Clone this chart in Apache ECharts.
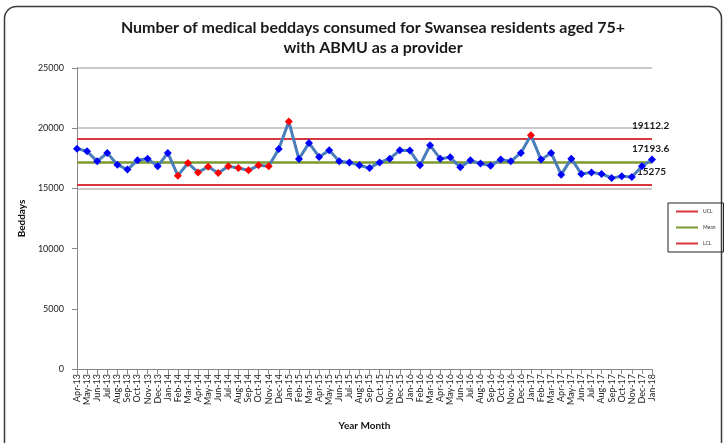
<!DOCTYPE html>
<html>
<head>
<meta charset="utf-8">
<script src="https://cdn.jsdelivr.net/npm/echarts@6/dist/echarts.min.js"></script>
<style>html,body{margin:0;padding:0;background:#fff}#c{width:725px;height:443px}</style>
</head>
<body>
<div id="c"></div>
<script>
const months = ['Apr-13','May-13','Jun-13','Jul-13','Aug-13','Sep-13','Oct-13','Nov-13','Dec-13',
  'Jan-14','Feb-14','Mar-14','Apr-14','May-14','Jun-14','Jul-14','Aug-14','Sep-14','Oct-14','Nov-14','Dec-14',
  'Jan-15','Feb-15','Mar-15','Apr-15','May-15','Jun-15','Jul-15','Aug-15','Sep-15','Oct-15','Nov-15','Dec-15',
  'Jan-16','Feb-16','Mar-16','Apr-16','May-16','Jun-16','Jul-16','Aug-16','Sep-16','Oct-16','Nov-16','Dec-16',
  'Jan-17','Feb-17','Mar-17','Apr-17','May-17','Jun-17','Jul-17','Aug-17','Sep-17','Oct-17','Nov-17','Dec-17',
  'Jan-18'];
const beddays = [18300,18080,17250,17950,16970,16560,17330,17470,16830,
  17950,16060,17110,16330,16800,16280,16830,16700,16500,16915,16830,18280,
  20550,17440,18780,17610,18160,17250,17160,16915,16700,17160,17470,18160,
  18140,16915,18580,17470,17580,16750,17330,17060,16890,17390,17250,17950,
  19410,17390,17950,16140,17470,16200,16330,16200,15870,16000,15950,16830,
  17390];
const UCL = 19112.2;
const MEAN = 17193.6;
const LCL = 15275;
const yTicks = [0,5000,10000,15000,20000,25000];

// flag points: outside limits, or part of a run of >= 8 on one side of the mean
function flags(v){
  const f = v.map(x => x > UCL || x < LCL);
  let i = 0;
  while (i < v.length){
    const side = v[i] > MEAN;
    let j = i;
    while (j < v.length && (v[j] > MEAN) === side) j++;
    if (j - i >= 8) for (let k = i; k < j; k++) f[k] = true;
    i = j;
  }
  return f;
}
const fl = flags(beddays);
const seriesData = beddays.map((v,i) => ({value:v, itemStyle:{color: fl[i] ? '#ff0000' : '#0000ff'}}));

const FONT = 'Lato';
const chart = echarts.init(document.getElementById('c'));
chart.setOption({
  animation:false,
  textStyle:{fontFamily:FONT},
  graphic:[{type:'rect', shape:{x:4.5,y:6.5,width:717,height:470,r:12}, style:{fill:'none',stroke:'#3a3a3a',lineWidth:1.5}, silent:true}],
  title:{text:'Number of medical beddays consumed for Swansea residents aged 75+\nwith ABMU as a provider',
    left:368, top:13, textAlign:'center',
    textStyle:{fontFamily:FONT,fontWeight:'bold',fontSize:16,color:'#1a1a1a',lineHeight:20}},
  legend:{orient:'vertical', left:668, top:203, width:54, itemWidth:22, itemHeight:2, itemGap:11,
    padding:[6,8,6,8], borderColor:'#222', borderWidth:1,
    textStyle:{fontSize:5,color:'#333'}, data:[
      {name:'UCL', icon:'rect'},{name:'Mean', icon:'rect'},{name:'LCL', icon:'rect'}]},
  grid:{left:77, right:73, top:68, bottom:74},
  xAxis:{type:'category', data:months, boundaryGap:false,
    name:'Year Month', nameLocation:'middle', nameGap:52,
    nameTextStyle:{fontWeight:'bold',fontSize:10,color:'#111'},
    axisLine:{lineStyle:{color:'#888'}}, axisTick:{show:true,alignWithLabel:true,lineStyle:{color:'#888'}},
    axisLabel:{interval:0, rotate:90, fontSize:9, color:'#222', margin:5}},
  yAxis:{type:'value', min:0, max:25000, interval:5000,
    name:'Beddays', nameLocation:'middle', nameGap:50,
    nameTextStyle:{fontWeight:'bold',fontSize:10,color:'#111'},
    axisLine:{show:true,lineStyle:{color:'#888'}}, axisTick:{show:true,lineStyle:{color:'#888'}},
    axisLabel:{fontSize:9,color:'#222',margin:13, formatter: function(v){ return String(v); }},
    splitLine:{show:true, lineStyle:{color:['rgba(0,0,0,0)','rgba(0,0,0,0)','rgba(0,0,0,0)','#b8b8b8','#b8b8b8','#b8b8b8'], width:1.5}}},
  series:[
    {name:'UCL', type:'line', data:[], color:'#d9363e', z:3,
      markLine:{symbol:'none', silent:true, lineStyle:{color:'#d9363e', width:2, type:'solid'},
        label:{show:true, position:'end', formatter:String(UCL), offset:[-25,-13], fontWeight:'bold', fontSize:10, color:'#1a1a1a', fontFamily:FONT},
        data:[{yAxis:UCL}]}},
    {name:'Mean', type:'line', data:[], color:'#7a9a2e', z:3,
      markLine:{symbol:'none', silent:true, lineStyle:{color:'#7a9a2e', width:2.5, type:'solid'},
        label:{show:true, position:'end', formatter:String(MEAN), offset:[-25,-13], fontWeight:'bold', fontSize:10, color:'#1a1a1a', fontFamily:FONT},
        data:[{yAxis:MEAN}]}},
    {name:'LCL', type:'line', data:[], color:'#d9363e', z:3,
      markLine:{symbol:'none', silent:true, lineStyle:{color:'#d9363e', width:2, type:'solid'},
        label:{show:true, position:'end', formatter:String(LCL), offset:[-20,-13], fontWeight:'bold', fontSize:10, color:'#1a1a1a', fontFamily:FONT},
        data:[{yAxis:LCL}]}},
    {name:'Beddays', type:'line', data:seriesData, z:5,
      lineStyle:{color:'#4a7ebb', width:3}, symbol:'diamond', symbolSize:8,
      itemStyle:{color:'#0000ff'}}
  ]
});
</script>
</body>
</html>
